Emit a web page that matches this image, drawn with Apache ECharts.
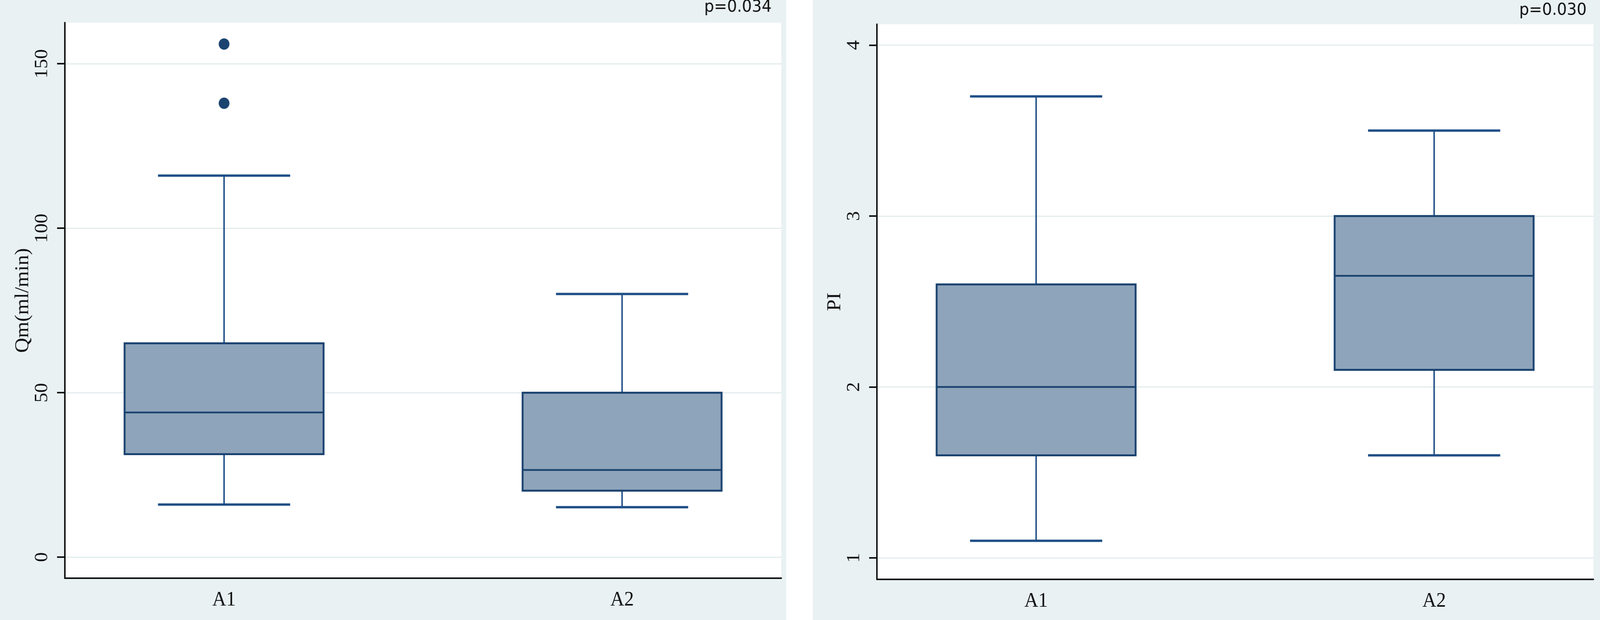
<!DOCTYPE html>
<html>
<head>
<meta charset="utf-8">
<script src="https://cdn.jsdelivr.net/npm/echarts@6/dist/echarts.min.js"></script>
<style>
  html, body { margin: 0; padding: 0; background: #fff; overflow: hidden; }
  #chart { width: 4317px; height: 1587px; transform-origin: 0 0; }
</style>
</head>
<body>
<div id="chart"></div>
<script>
// data
const groups = ['A1', 'A2'];
// each row: [lower whisker, Q1, median, Q3, upper whisker]
const qmBox = [[16, 31.3, 44, 65, 116], [15.2, 20.2, 26.5, 50, 80]];
const qmOutliers = [[1, 156], [1, 138]];
const piBox = [[1.1, 1.6, 2.0, 2.6, 3.7], [1.6, 2.1, 2.65, 3.0, 3.5]];
const qmTicks = [0, 50, 100, 150];
const piTicks = [1, 2, 3, 4];
const pValues = ['p=0.034', 'p=0.030'];

const BOX_HALF = 0.25;
const CAP_HALF = 0.166;
const LINE = '#1f4f86';
const EDGE = '#1a426f';
const FILL = '#8ea4ba';
const PANEL = '#e9f1f3';
const SERIF = '"Liberation Serif", "Times New Roman", serif';

// fit the 4317x1587 drawing into whatever viewport we get
const el = document.getElementById('chart');
const sx = window.innerWidth / 4317, sy = window.innerHeight / 1587;
if (Math.abs(sx - 1) > 0.001 || Math.abs(sy - 1) > 0.001) {
    el.style.transform = 'scale(' + sx + ',' + sy + ')';
}

function renderBox(params, api) {
    const x = api.value(0);
    const lo = api.value(1), q1 = api.value(2), md = api.value(3), q3 = api.value(4), hi = api.value(5);
    const tl = api.coord([x - BOX_HALF, q3]);
    const br = api.coord([x + BOX_HALF, q1]);
    const mL = api.coord([x - BOX_HALF, md]);
    const mR = api.coord([x + BOX_HALF, md]);
    const c = api.coord([x, q3])[0];
    const pHi = api.coord([x, hi]);
    const pLo = api.coord([x, lo]);
    const cL = api.coord([x - CAP_HALF, hi])[0];
    const cR = api.coord([x + CAP_HALF, hi])[0];
    return {
        type: 'group',
        children: [
            { type: 'line', shape: { x1: c, y1: tl[1], x2: c, y2: pHi[1] }, style: { stroke: LINE, lineWidth: 4 } },
            { type: 'line', shape: { x1: c, y1: br[1], x2: c, y2: pLo[1] }, style: { stroke: LINE, lineWidth: 4 } },
            { type: 'line', shape: { x1: cL, y1: pHi[1], x2: cR, y2: pHi[1] }, style: { stroke: LINE, lineWidth: 6 } },
            { type: 'line', shape: { x1: cL, y1: pLo[1], x2: cR, y2: pLo[1] }, style: { stroke: LINE, lineWidth: 6 } },
            { type: 'rect', shape: { x: tl[0], y: tl[1], width: br[0] - tl[0], height: br[1] - tl[1] },
              style: { fill: FILL, stroke: EDGE, lineWidth: 5 } },
            { type: 'line', shape: { x1: mL[0], y1: mL[1], x2: mR[0], y2: mR[1] }, style: { stroke: EDGE, lineWidth: 4.5 } }
        ]
    };
}

function xAxisFor(gridIndex) {
    return {
        type: 'value', gridIndex: gridIndex, min: 0.6, max: 2.4,
        axisLine: { show: true, onZero: false, lineStyle: { color: '#111', width: 4 } },
        axisTick: { show: false },
        splitLine: { show: false },
        axisLabel: {
            customValues: [1, 2],
            formatter: v => groups[Math.round(v) - 1],
            margin: 30,
            color: '#111', fontFamily: SERIF, fontSize: 52
        }
    };
}

function yAxisFor(gridIndex, min, max, ticks, name) {
    return {
        type: 'value', gridIndex: gridIndex, min: min, max: max,
        name: name, nameLocation: 'middle', nameGap: 86,
        nameTextStyle: { color: '#111', fontFamily: SERIF, fontSize: 53 },
        axisLine: { show: true, onZero: false, lineStyle: { color: '#111', width: 4 } },
        axisTick: { show: true, customValues: ticks, length: 21, lineStyle: { color: '#111', width: 4 } },
        axisLabel: { customValues: ticks, rotate: 90, margin: 36, color: '#111', fontFamily: SERIF, fontSize: 50 },
        splitLine: { show: true, lineStyle: { color: '#e3eced', width: 3 } }
    };
}

const chart = echarts.init(el, null, { renderer: 'canvas', width: 4317, height: 1587 });

chart.setOption({
    backgroundColor: PANEL,
    animation: false,
    graphic: [
        { type: 'rect', z: -1, shape: { x: 2121, y: 0, width: 72, height: 1587 }, style: { fill: '#fff' } }
    ],
    title: [
        { text: pValues[0], right: 2235, top: -2, padding: 0,
          textStyle: { fontFamily: '"DejaVu Sans", sans-serif', fontWeight: 'normal', fontSize: 42, color: '#111' } },
        { text: pValues[1], right: 36, top: 6, padding: 0,
          textStyle: { fontFamily: '"DejaVu Sans", sans-serif', fontWeight: 'normal', fontSize: 42, color: '#111' } }
    ],
    grid: [
        { left: 175, top: 58, width: 1933, height: 1422, show: true, backgroundColor: '#fff', borderWidth: 0 },
        { left: 2366, top: 62, width: 1933, height: 1421, show: true, backgroundColor: '#fff', borderWidth: 0 }
    ],
    xAxis: [xAxisFor(0), xAxisFor(1)],
    yAxis: [
        yAxisFor(0, -6.4, 162.5, qmTicks, 'Qm(ml/min)'),
        yAxisFor(1, 0.874, 4.122, piTicks, 'PI')
    ],
    series: [
        {
            type: 'custom', xAxisIndex: 0, yAxisIndex: 0,
            renderItem: renderBox,
            encode: { x: 0, y: [1, 2, 3, 4, 5] },
            data: qmBox.map((s, i) => [i + 1].concat(s))
        },
        {
            type: 'scatter', xAxisIndex: 0, yAxisIndex: 0,
            symbolSize: 29,
            itemStyle: { color: '#1b4470', opacity: 1 },
            data: qmOutliers
        },
        {
            type: 'custom', xAxisIndex: 1, yAxisIndex: 1,
            renderItem: renderBox,
            encode: { x: 0, y: [1, 2, 3, 4, 5] },
            data: piBox.map((s, i) => [i + 1].concat(s))
        }
    ]
});
</script>
</body>
</html>
